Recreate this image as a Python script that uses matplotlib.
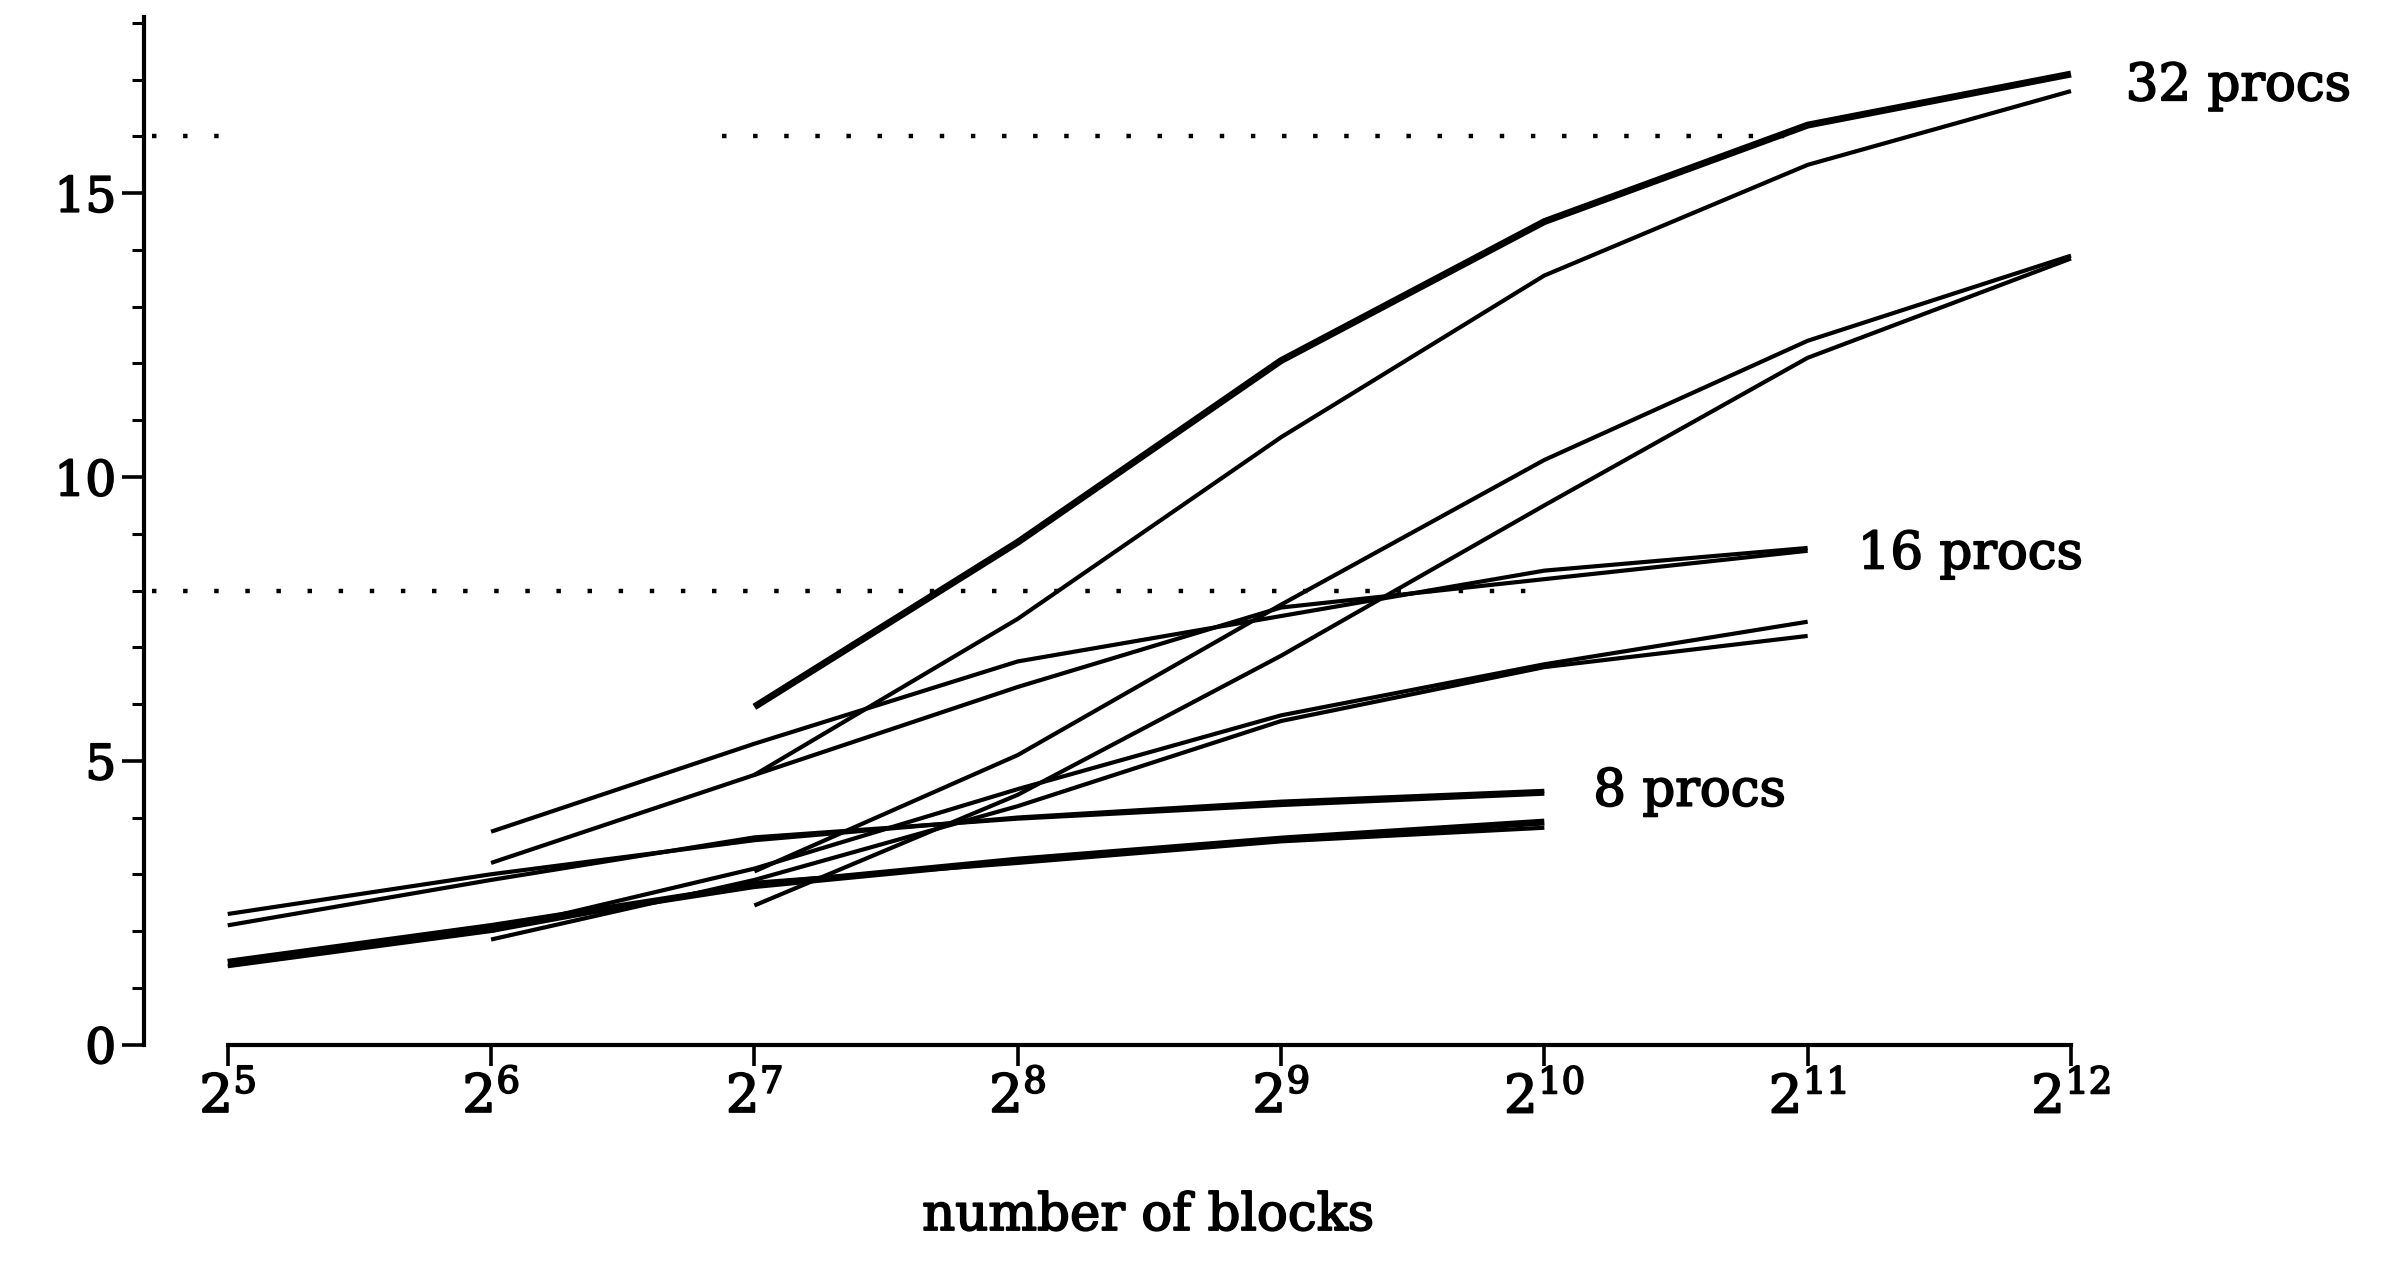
import matplotlib
matplotlib.use('Agg')
import matplotlib.pyplot as plt
import matplotlib.patheffects as pe
from matplotlib.ticker import FixedLocator, NullLocator, LogFormatterMathtext, MultipleLocator

plt.rcParams['font.family'] = ['DejaVu Serif']
plt.rcParams['mathtext.fontset'] = 'dejavuserif'

# ---- data ----
blocks = [32, 64, 128, 256, 512, 1024, 2048, 4096]

blocks_8 = blocks[0:6]
p8_a = [2.30, 3.00, 3.60, 4.00, 4.28, 4.47]
p8_b = [2.10, 2.90, 3.65, 3.98, 4.22, 4.42]
p8_c = [1.45, 2.08, 2.80, 3.25, 3.62, 3.92]
p8_d = [1.38, 2.00, 2.85, 3.20, 3.58, 3.82]

blocks_16 = blocks[1:7]
p16_a = [3.75, 5.30, 6.75, 7.55, 8.35, 8.75]
p16_b = [3.20, 4.75, 6.30, 7.70, 8.20, 8.70]
p16_c = [2.00, 3.10, 4.50, 5.80, 6.70, 7.45]
p16_d = [1.85, 2.90, 4.20, 5.70, 6.65, 7.20]

blocks_32 = blocks[2:8]
p32_a = [5.95, 8.85, 12.05, 14.50, 16.20, 17.10]
p32_b = [4.75, 7.50, 10.70, 13.55, 15.50, 16.80]
p32_c = [3.05, 5.10, 7.75, 10.30, 12.40, 13.90]
p32_d = [2.45, 4.40, 6.85, 9.50, 12.10, 13.85]

group_labels = ["8 procs", "16 procs", "32 procs"]
label_values = [4.45, 8.63, 16.88]

ideal_levels = [16, 16, 8]
ideal_x_start = [2**4.711, 2**6.877, 2**4.711]
ideal_x_end = [2**5.058, 2**10.98, 2**10.0]

y_major = [0, 5, 10, 15]
x_label = "number of blocks"

# ---- figure ----
fig = plt.figure(figsize=(23.84, 12.76), dpi=100)
ax = fig.add_axes([0.0604, 0.1814, 0.8083, 0.8095])
ax.set_xscale('log', base=2)
ax.set_xlim(2**4.682, 2**12)
ax.set_ylim(0, 18.2)

lw_thin = 3.0
lw_thick = 5.0
for ys, lw in [(p8_a, lw_thin), (p8_b, lw_thin), (p8_c, lw_thick), (p8_d, lw_thin)]:
    ax.plot(blocks_8, ys, color='black', lw=lw, solid_capstyle='butt', clip_on=False)
for ys, lw in [(p16_a, lw_thin), (p16_b, lw_thin), (p16_c, lw_thin), (p16_d, lw_thin)]:
    ax.plot(blocks_16, ys, color='black', lw=lw, solid_capstyle='butt', clip_on=False)
for ys, lw in [(p32_a, lw_thick), (p32_b, lw_thin), (p32_c, lw_thin), (p32_d, lw_thin)]:
    ax.plot(blocks_32, ys, color='black', lw=lw, solid_capstyle='butt', clip_on=False)

for lev, xs, xe in zip(ideal_levels, ideal_x_start, ideal_x_end):
    ax.plot([xs, xe], [lev, lev], color='black', lw=3.2, linestyle=(0, (1, 6.0)),
            dash_capstyle='butt', clip_on=False)

thick_text = [pe.withStroke(linewidth=1.3, foreground='black')]

# group labels
ax.text(2**10.186, label_values[0], group_labels[0], ha='left', va='center', fontsize=37,
        path_effects=thick_text)
ax.text(2**11.19, label_values[1], group_labels[1], ha='left', va='center', fontsize=37,
        path_effects=thick_text)
ax.text(2**12.208, label_values[2], group_labels[2], ha='left', va='center', fontsize=37,
        clip_on=False, path_effects=thick_text)

# spines
for s in ['top', 'right']:
    ax.spines[s].set_visible(False)
ax.spines['left'].set_bounds(0, 18.1)
ax.spines['bottom'].set_bounds(32, 4096)
ax.spines['left'].set_linewidth(3.0)
ax.spines['bottom'].set_linewidth(3.0)

ax.xaxis.set_major_locator(FixedLocator(blocks))
ax.xaxis.set_minor_locator(NullLocator())
ax.xaxis.set_major_formatter(LogFormatterMathtext(base=2))
ax.yaxis.set_major_locator(FixedLocator(y_major))
ax.yaxis.set_minor_locator(MultipleLocator(1))

ax.tick_params(axis='x', which='major', direction='out', length=15, width=2.6,
               labelsize=38, pad=5)
ax.tick_params(axis='y', which='major', direction='out', length=16, width=2.6,
               labelsize=35, pad=4)
ax.tick_params(axis='y', which='minor', direction='out', length=9, width=2.2)

for lbl in ax.get_xticklabels() + ax.get_yticklabels():
    lbl.set_path_effects(thick_text)

fig.text(0.4815, 0.0468, x_label, ha='center', va='center', fontsize=37,
         path_effects=thick_text)

fig.savefig('out.png', dpi=100, facecolor='white')
